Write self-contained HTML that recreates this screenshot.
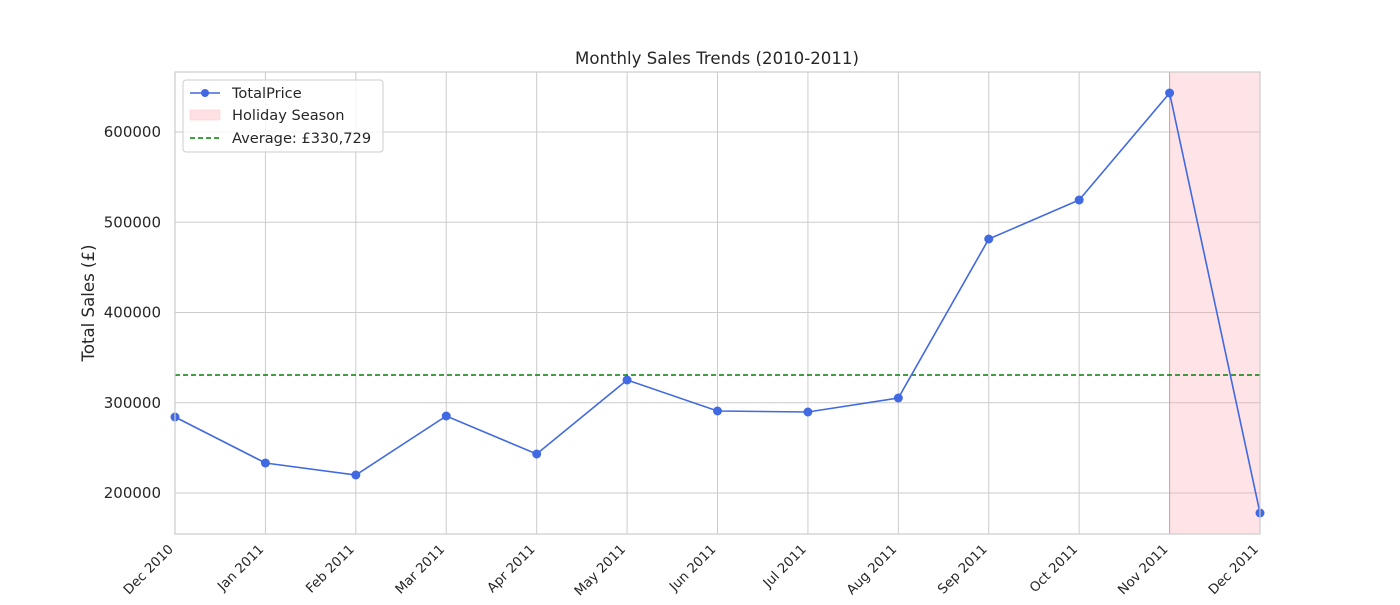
<!DOCTYPE html>
<html><head><meta charset="utf-8">
<style>
body{margin:0;background:#fff;font-family:"Liberation Sans","DejaVu Sans",sans-serif;}
svg text{font-family:"DejaVu Sans","Liberation Sans",sans-serif;fill:#262626;}
</style></head>
<body>
<svg id="chart" width="1400" height="600" xmlns="http://www.w3.org/2000/svg">
<text x="717" y="64" text-anchor="middle" font-size="16.6">Monthly Sales Trends (2010-2011)</text>
<text transform="translate(94,303) rotate(-90)" text-anchor="middle" font-size="16.6">Total Sales (£)</text>
<g id="grid"></g>
<g id="marks"></g>
<rect x="175" y="72" width="1085" height="462" fill="none" stroke="#ccc" stroke-width="1.2"/>
<g id="ticks"></g>
<g>
<rect x="183" y="80" width="200" height="72" rx="3" fill="#fff" fill-opacity="0.8" stroke="#ccc"/>
<g><line x1="190" y1="93" x2="220" y2="93" stroke="#4169e1" stroke-width="1.5"/><circle cx="205" cy="93" r="4" fill="#4169e1"/><text x="232" y="98" font-size="14.6">TotalPrice</text></g>
<g><rect x="190" y="110" width="30" height="10" fill="#ffe0e3" stroke="#f8c8cc" stroke-width="0.5"/><text x="232" y="120" font-size="14.6">Holiday Season</text></g>
<g><line x1="190" y1="138" x2="220" y2="138" stroke="green" stroke-width="1.5" stroke-dasharray="5,3"/><text x="232" y="143" font-size="14.6">Average: £330,729</text></g>
</g>
</svg>
<script>
const months = ["Dec 2010","Jan 2011","Feb 2011","Mar 2011","Apr 2011","May 2011","Jun 2011","Jul 2011","Aug 2011","Sep 2011","Oct 2011","Nov 2011","Dec 2011"];
const sales = [284211,233240,219945,285319,243213,325208,290859,289751,305263,481440,524654,643213,177839];
const yTicks = [200000,300000,400000,500000,600000];
const average = 330729;
const holidayStart = 11, holidayEnd = 12;

const NS="http://www.w3.org/2000/svg";
const X0=175,X1=1260,YB=534,YT=72,VMIN=154571,VMAX=666482;
function xs(i){return X0+(X1-X0)*i/(months.length-1);}
function ys(v){return YB-(v-VMIN)/(VMAX-VMIN)*(YB-YT);}
function mk(tag,attrs,parent){const e=document.createElementNS(NS,tag);for(const k in attrs)e.setAttribute(k,attrs[k]);parent.appendChild(e);return e;}
const grid=document.getElementById('grid'),marks=document.getElementById('marks'),ticks=document.getElementById('ticks');

yTicks.forEach(v=>{
  const l=mk('line',{x1:X0,x2:X1,y1:ys(v),y2:ys(v),stroke:'#cccccc','stroke-width':1},grid);
  
  
  const t=mk('text',{x:X0-14,y:ys(v)+5,'text-anchor':'end','font-size':15},ticks);
  t.textContent=v;
  
  
});
months.forEach((m,i)=>{
  const l=mk('line',{x1:xs(i),x2:xs(i),y1:YT,y2:YB,stroke:'#cccccc','stroke-width':1},grid);
  
  
  const t=mk('text',{transform:`translate(${xs(i)-1},${YB+16}) rotate(-45)`,'text-anchor':'end','font-size':13.3},ticks);
  t.textContent=m;
  
  
});
const hs=mk('rect',{x:xs(holidayStart),y:YT,width:xs(holidayEnd)-xs(holidayStart),height:YB-YT,fill:'#ff9aa5','fill-opacity':0.27,stroke:'#d9a0a6','stroke-width':1},marks);


const av=mk('line',{x1:X0,x2:X1,y1:ys(average),y2:ys(average),stroke:'green','stroke-width':1.5,'stroke-dasharray':'5,3'},marks);


const pl=mk('polyline',{points:sales.map((v,i)=>xs(i)+','+ys(v)).join(' '),fill:'none',stroke:'#4169e1','stroke-width':1.6},marks);


sales.forEach((v,i)=>{
  const c=mk('circle',{cx:xs(i),cy:ys(v),r:4.5,fill:'#4169e1'},marks);
  
  
});
</script>
</body></html>
